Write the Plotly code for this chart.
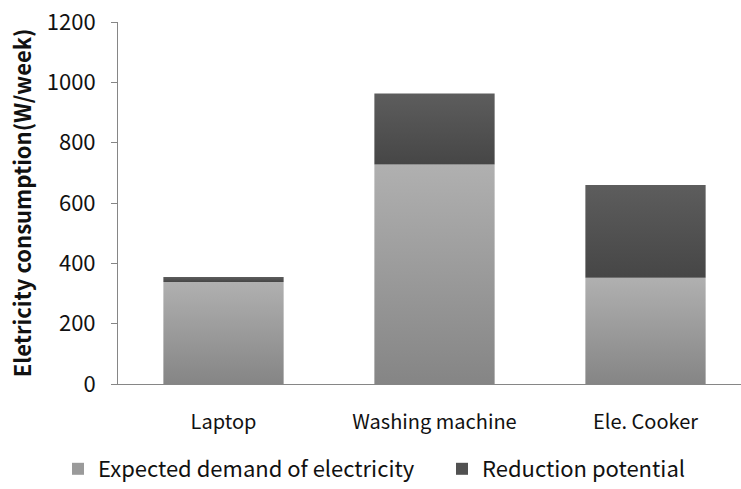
import plotly.graph_objects as go

# Weekly electricity consumption per appliance (W/week)
categories = ["Laptop", "Washing machine", "Ele. Cooker"]
expected_demand = [338, 728, 352]
reduction_potential = [17, 235, 308]
series_names = ["Expected demand of electricity", "Reduction potential"]
y_ticks = [0, 200, 400, 600, 800, 1000, 1200]

# gradient (bottom colour, top colour) and legend colour per series
gradients = [("#858585", "#b0b0b0"), ("#464646", "#5d5d5d")]
legend_colors = ["#9a9a9a", "#515151"]
legend_ids = ["legend", "legend2"]
legend_left_px = [58, 442]
bar_width = 0.57

fig = go.Figure()

series_values = [expected_demand, reduction_potential]
bases = [[0] * len(categories), expected_demand]

for s, (vals, base) in enumerate(zip(series_values, bases)):
    lo, hi = gradients[s]
    for i, (v, b) in enumerate(zip(vals, base)):
        x0, x1 = i - bar_width / 2, i + bar_width / 2
        top = b + v
        fig.add_trace(go.Scatter(
            x=[x0, x1, x1, x0, x0],
            y=[b, b, top, top, b],
            mode="none",
            fill="toself",
            fillgradient=dict(type="vertical", colorscale=[[0, lo], [1, hi]]),
            showlegend=False,
            hoverinfo="skip",
        ))
    # legend entry
    fig.add_trace(go.Scatter(
        x=[None], y=[None], mode="markers", name=series_names[s],
        marker=dict(symbol="square", size=13, color=legend_colors[s]),
        legend=legend_ids[s],
    ))

font_family = "Noto Sans CJK KR, Noto Sans, sans-serif"
text_color = "#111111"


def legend_box(left_px):
    return dict(
        orientation="h", xref="container", yref="container",
        x=left_px / 741, xanchor="left", y=1 - 469 / 489, yanchor="middle",
        font=dict(size=22, color=text_color), itemsizing="constant",
        bgcolor="rgba(0,0,0,0)",
    )


fig.update_layout(
    width=741, height=489,
    margin=dict(l=118, r=0, t=22, b=105, autoexpand=False),
    paper_bgcolor="white", plot_bgcolor="white",
    font=dict(family=font_family, size=22, color=text_color),
    showlegend=True,
    legend=legend_box(legend_left_px[0]),
    legend2=legend_box(legend_left_px[1]),
    xaxis=dict(
        range=[-0.5, -0.5 + 623 / 211],
        tickvals=list(range(len(categories))), ticktext=categories,
        tickfont=dict(size=20),
        showgrid=False, zeroline=False,
        showline=True, linecolor="#868686", linewidth=1,
        ticks="", ticklabelstandoff=20,
    ),
    yaxis=dict(
        range=[0, 1200], tickvals=y_ticks,
        showgrid=False, zeroline=False,
        showline=True, linecolor="#868686", linewidth=1,
        ticks="outside", ticklen=6, tickcolor="#868686",
        ticklabelstandoff=11,
        title=dict(text="<b>Eletricity consumption(W/week)</b>", font=dict(size=22), standoff=9),
    ),
)

fig.write_html("out.html")
